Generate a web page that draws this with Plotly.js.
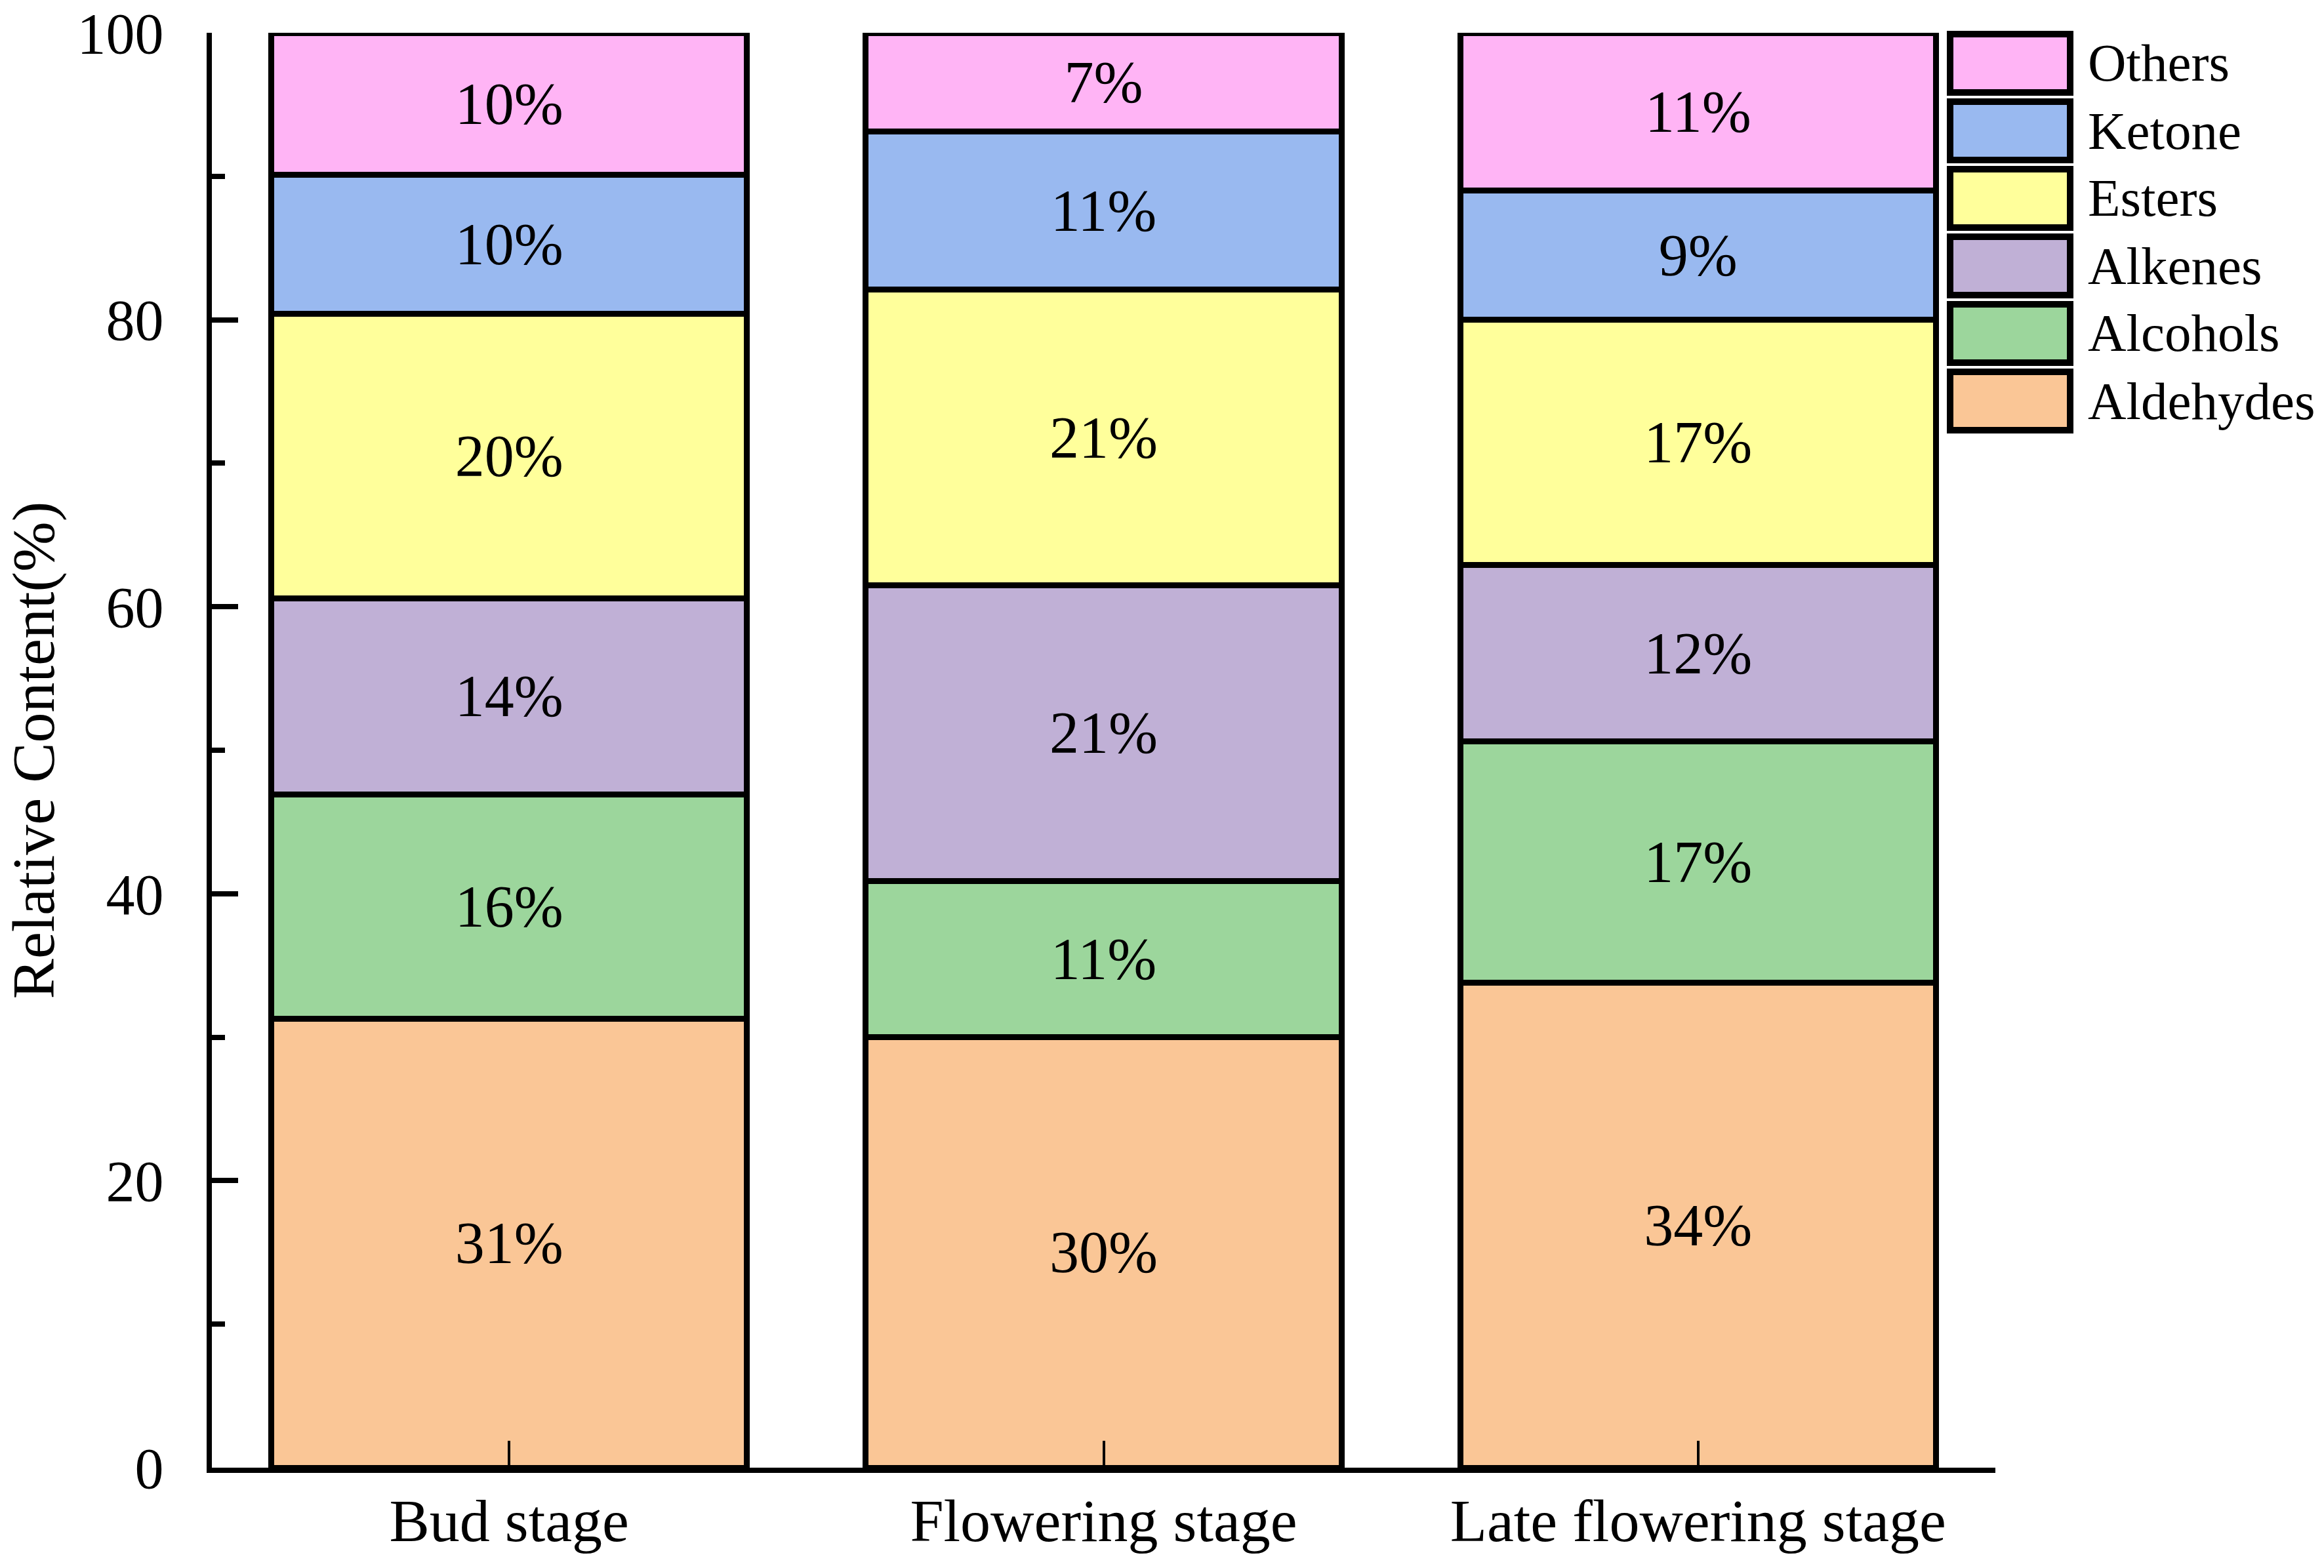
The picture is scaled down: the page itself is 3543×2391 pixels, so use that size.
<!DOCTYPE html>
<html>
<head>
<meta charset="utf-8">
<script src="https://cdn.plot.ly/plotly-3.0.1.min.js"></script>
<style>html,body{margin:0;padding:0;background:#fff;}</style>
</head>
<body>
<div id="chart" style="width:3543px;height:2391px;"></div>
<script>
// ---- data ----
const categories = ['Bud stage', 'Flowering stage', 'Late flowering stage'];
const seriesNames = ['Aldehydes', 'Alcohols', 'Alkenes', 'Esters', 'Ketone', 'Others'];
const aldehydes = [31.3, 30.0, 33.8];
const alcohols  = [15.6, 10.9, 16.8];
const alkenes   = [13.7, 20.6, 12.3];
const esters    = [19.8, 20.6, 17.1];
const ketone    = [9.7, 11.0, 9.0];
const others    = [9.9, 6.9, 11.0];
const yTicks = [0, 20, 40, 60, 80, 100];

const seriesValues = [aldehydes, alcohols, alkenes, esters, ketone, others];
const seriesColors = ['rgb(250,198,150)', 'rgb(156,214,156)', 'rgb(192,176,214)',
                      'rgb(255,255,155)', 'rgb(153,185,240)', 'rgb(255,180,245)'];

const FONT = '"Liberation Serif", "Times New Roman", serif';

const traces = seriesNames.map((name, i) => ({
  type: 'bar',
  name: name,
  x: categories,
  y: seriesValues[i],
  marker: { color: seriesColors[i], line: { color: '#000', width: 9 } },
  texttemplate: '%{y:.0f}%',
  textposition: 'inside',
  insidetextanchor: 'middle',
  textangle: 0,
  insidetextfont: { family: FONT, size: 90, color: '#000' },
  hoverinfo: 'none',
  showlegend: false
}));

// layout geometry (pixels)
const W = 3543, H = 2391;
const L = 323, R = 3042, T = 50, B = 2238;
const px = x => (x - L) / (R - L);
const py = y => (B - y) / (B - T);

// custom legend (top item = Others)
const shapes = [];
const annotations = [];
const legendOrder = seriesNames.slice().reverse();
const legendColors = seriesColors.slice().reverse();
legendOrder.forEach((name, i) => {
  const top = 47 + i * 103;
  const bot = top + 99;
  shapes.push({
    type: 'rect', xref: 'paper', yref: 'paper',
    x0: px(2973), x1: px(3156), y0: py(bot - 5), y1: py(top + 5),
    fillcolor: legendColors[i], line: { color: '#000', width: 10 }, layer: 'above'
  });
  annotations.push({
    xref: 'paper', yref: 'paper', x: px(3181), y: py((top + bot) / 2),
    xanchor: 'left', yanchor: 'middle', showarrow: false,
    text: name, font: { family: FONT, size: 81, color: '#000' }
  });
});

const layout = {
  width: W, height: H,
  margin: { l: L, r: W - R, t: T, b: H - B, pad: 0 },
  paper_bgcolor: '#fff', plot_bgcolor: '#fff',
  font: { family: FONT, color: '#000' },
  barmode: 'stack',
  bargap: 0.2,
  showlegend: false,
  xaxis: {
    type: 'category',
    range: [-0.5, 2.5],
    showline: true, linecolor: '#000', linewidth: 8,
    ticks: 'inside', ticklen: 41, tickwidth: 4, tickcolor: '#000',
    tickfont: { family: FONT, size: 92, color: '#000' },
    ticklabelstandoff: -6,
    showgrid: false, zeroline: false, fixedrange: true
  },
  yaxis: {
    range: [0, 100],
    tickvals: yTicks,
    ticktext: yTicks.map(String),
    showline: true, linecolor: '#000', linewidth: 8,
    ticks: 'inside', ticklen: 40, tickwidth: 8, tickcolor: '#000',
    minor: { dtick: 10, tick0: 0, ticks: 'inside', ticklen: 20, tickwidth: 8, tickcolor: '#000', showgrid: false },
    tickfont: { family: FONT, size: 88, color: '#000' },
    ticklabelstandoff: 48,
    showgrid: false, zeroline: false, fixedrange: true,
    title: { text: 'Relative Content(%)', font: { family: FONT, size: 92, color: '#000' }, standoff: 30 }
  },
  shapes: shapes,
  annotations: annotations
};

Plotly.newPlot('chart', traces, layout, { displayModeBar: false, staticPlot: true });
</script>
</body>
</html>
